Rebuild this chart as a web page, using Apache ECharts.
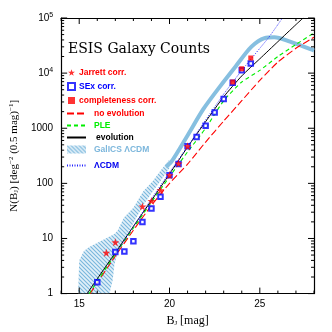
<!DOCTYPE html>
<html><head><meta charset="utf-8">
<script src="https://cdn.jsdelivr.net/npm/echarts@6/dist/echarts.min.js"></script>
<style>html,body{margin:0;padding:0;background:#fff}#c{width:332px;height:332px}</style>
</head><body><div id="c"></div><script>
// ---- data ----
const jarrettMag = [16.5, 17, 18.5, 19, 19.5, 20, 20.5, 21];
const jarrettN   = [5.5, 8.5, 38, 48, 75, 140, 230, 470];
const sexMag = [16, 17, 17.5, 18, 18.5, 19, 19.5, 20, 20.5, 21, 21.5, 22, 22.5, 23, 23.5, 24, 24.5];
const sexN   = [1.6, 5.7, 5.8, 8.9, 20, 35, 57, 140, 225, 470, 690, 1110, 1930, 3400, 6700, 11300, 15000];
const compMag = [23.5, 24, 24.5];
const compN   = [6900, 12000, 18800];
const noEvoMag = [15.6, 17, 18, 19, 20, 21, 22, 23, 24, 25, 26, 27, 28];
const noEvoN   = [1, 4.8, 14.1, 39.8, 100, 224, 562, 1350, 3160, 7410, 15850, 28200, 44700];
const pleMag = [15.55, 17, 18, 19, 20, 21, 22, 23, 24, 25, 26, 27, 28];
const pleN   = [1, 5.2, 15.5, 45.7, 132, 372, 1000, 3160, 6900, 11200, 20000, 33100, 53700];
const evoMag = [15.44, 16, 17, 18, 19, 20, 21, 22, 23, 24, 25, 26, 27, 27.4];
const evoN   = [1, 1.86, 5.5, 16.6, 49, 148, 457, 1320, 3720, 8900, 18200, 37200, 75900, 100000];
const lcdmMag = [17, 18, 19, 20, 21, 22, 23, 24, 25, 25.5, 26, 26.25];
const lcdmN   = [5, 16.6, 52.5, 158, 468, 1410, 4170, 11200, 28200, 44700, 75900, 100000];
const galicsUpperMag = [14.94, 15.0, 15.26, 15.53, 16.2, 16.95, 17.13, 17.48, 18.0, 18.55, 19.08, 19.5, 20.0];
const galicsUpperN   = [1, 4.0, 5.9, 6.9, 9, 12, 14, 24, 36, 72, 110, 170, 270];
const galicsLowerMag = [16.68, 16.86, 16.95, 17.13, 17.5, 18.0, 18.55, 19.0, 19.5, 20.0];
const galicsLowerN   = [1, 1.8, 3.4, 5.5, 9.5, 19, 40, 66, 110, 190];
const galicsLineMag = [19.8, 20.1, 21, 21.88, 22.8, 23.66, 24.54, 25.26, 25.8, 26.67, 27.92, 28];
const galicsLineN   = [200, 245, 740, 2240, 5750, 13200, 30200, 43200, 44700, 37200, 26300, 25700];
const xMajorTicks = [15, 20, 25];
const xMinorTicks = [14, 16, 17, 18, 19, 21, 22, 23, 24, 26, 27, 28];
const yMajorTicks = [1, 10, 100, 1000, 10000, 100000];

const zip = (a, b) => a.map((v, i) => [v, b[i]]);
const yMinorTicks = [];
for (let e = 0; e < 5; e++) for (let k = 2; k <= 9; k++) yMinorTicks.push(k * Math.pow(10, e));

// hatch pattern
const pc = document.createElement('canvas');
pc.width = 4; pc.height = 4;
const g = pc.getContext('2d');
g.fillStyle = '#e2f0f9'; g.fillRect(0, 0, 4, 4);
g.strokeStyle = '#79b6dc'; g.lineWidth = 1.1;
g.beginPath(); g.moveTo(-1, -1); g.lineTo(5, 5); g.moveTo(-1, 3); g.lineTo(1, 5); g.moveTo(3, -1); g.lineTo(5, 1); g.stroke();
const hatch = { image: pc, repeat: 'repeat' };

const XMIN = 14, XMAX = 28, YMIN = 1, YMAX = 100000;
const starPath = 'path://M0,-10L2.35,-3.24L9.51,-3.09L3.8,1.24L5.88,8.09L0,4L-5.88,8.09L-3.8,1.24L-9.51,-3.09L-2.35,-3.24Z';
const legendFont = { fontSize: 8.5, fontWeight: 'bold', fontFamily: 'Liberation Sans' };
const hiddenSymbol = { opacity: 0 };

const chart = echarts.init(document.getElementById('c'));
chart.setOption({
  animation: false,
  backgroundColor: '#fff',
  title: { text: 'ESIS Galaxy Counts', left: 63, top: 37,
    textStyle: { fontFamily: 'DejaVu Serif', fontWeight: 'normal', fontSize: 14, color: '#000' } },
  grid: { left: 51, right: 18, top: 18, bottom: 36 },
  xAxis: [
    { type: 'value', min: XMIN, max: XMAX, splitNumber: 3,
      axisLine: { lineStyle: { color: '#000', width: 1.2 } }, axisTick: { show: false }, splitLine: { show: false },
      axisLabel: { color: '#000', fontSize: 10, fontFamily: 'Liberation Sans', margin: 6,
        formatter: v => (xMajorTicks.indexOf(v) >= 0 ? String(v) : '') },
      name: 'B{s|J} [mag]', nameLocation: 'middle', nameGap: 20,
      nameTextStyle: { fontFamily: 'Liberation Serif', fontSize: 12, color: '#000',
        rich: { s: { fontSize: 7, verticalAlign: 'bottom', padding: [6, 0, 0, 0], fontFamily: 'Liberation Serif' } } } },
    { type: 'value', min: XMIN, max: XMAX, position: 'top',
      axisLine: { lineStyle: { color: '#000', width: 1.2 } }, axisTick: { show: false }, splitLine: { show: false },
      axisLabel: { show: false } }
  ],
  yAxis: [
    { type: 'log', logBase: 10, min: YMIN, max: YMAX,
      axisLine: { lineStyle: { color: '#000', width: 1.2 } }, axisTick: { show: false }, splitLine: { show: false },
      axisLabel: { color: '#000', fontSize: 10, fontFamily: 'Liberation Sans', margin: 8,
        formatter: v => { const e = Math.round(Math.log10(v)); return e <= 3 ? String(Math.round(v)) : '10{sup|' + e + '}'; },
        rich: { sup: { fontSize: 7, verticalAlign: 'top', padding: [0, 0, 6, 0], fontFamily: 'Liberation Sans' } } },
      name: 'N(B{s|J}) [deg{p|−2} (0.5 mag){p|−1}]', nameLocation: 'middle', nameGap: 40, nameRotate: 90,
      nameTextStyle: { fontFamily: 'Liberation Serif', fontSize: 11, color: '#000',
        rich: { s: { fontSize: 7, padding: [5, 0, 0, 0], fontFamily: 'Liberation Serif' },
                p: { fontSize: 7, padding: [0, 0, 5, 0], fontFamily: 'Liberation Serif' } } } },
    { type: 'log', logBase: 10, min: YMIN, max: YMAX, position: 'right',
      axisLine: { lineStyle: { color: '#000', width: 1.2 } }, axisTick: { show: false }, splitLine: { show: false },
      axisLabel: { show: false } }
  ],
  legend: [
    { orient: 'vertical', left: 67, top: 68, padding: 0, itemWidth: 7, itemHeight: 7, itemGap: 5, selectedMode: false,
      textStyle: Object.assign({ padding: [0, 0, 0, -1] }, legendFont),
      data: [
        { name: 'Jarrett corr.', icon: starPath, textStyle: { color: '#ff0000' } },
        { name: 'SEx corr.', icon: 'emptyRect', textStyle: { color: '#0000ff' } },
        { name: 'completeness corr.', icon: 'rect', textStyle: { color: '#ff0000' } }
      ] },
    { orient: 'vertical', left: 66, top: 109, padding: 0, itemWidth: 19, itemHeight: 8, itemGap: 3, selectedMode: false,
      itemStyle: hiddenSymbol,
      textStyle: Object.assign({ padding: [0, 0, 0, 3] }, legendFont),
      data: [
        { name: 'no evolution', textStyle: { color: '#ff0000' } },
        { name: 'PLE', textStyle: { color: '#00ee00' } },
        { name: 'evolution', textStyle: { color: '#000', padding: [0, 0, 0, 5] } }
      ] },
    { orient: 'vertical', left: 66, top: 145, padding: 0, itemWidth: 19, itemHeight: 8, itemGap: 7, selectedMode: false,
      itemStyle: hiddenSymbol,
      textStyle: Object.assign({ padding: [0, 0, 0, 3] }, legendFont),
      data: [
        { name: 'GalICS ΛCDM', icon: 'rect', itemStyle: { color: hatch, opacity: 1 }, textStyle: { color: '#7db7dc' } },
        { name: 'ΛCDM', textStyle: { color: '#0000ee' } }
      ] }
  ],
  series: [
    { name: 'GalICS ΛCDM', type: 'custom', z: 1, silent: true, clip: true,
      itemStyle: { color: hatch },
      data: [[XMIN, YMIN]],
      renderItem: (params, api) => {
        const pts = [];
        galicsUpperMag.forEach((m, i) => pts.push(api.coord([m, galicsUpperN[i]])));
        for (let i = galicsLowerMag.length - 1; i >= 0; i--) pts.push(api.coord([galicsLowerMag[i], galicsLowerN[i]]));
        return { type: 'polygon', shape: { points: pts }, style: { fill: hatch, stroke: null } };
      } },
    { name: 'GalICS line', type: 'line', z: 2, symbol: 'none', smooth: 0.3,
      lineStyle: { color: '#86bfe0', width: 4 }, data: zip(galicsLineMag, galicsLineN) },
    { name: 'no evolution', type: 'line', z: 3, symbol: 'none', color: '#ff0000',
      lineStyle: { color: '#ff0000', width: 1.1, type: [7, 3] }, data: zip(noEvoMag, noEvoN), smooth: 0.2 },
    { name: 'PLE', type: 'line', z: 3, symbol: 'none', color: '#00ee00',
      lineStyle: { color: '#00ee00', width: 1.1, type: [4, 3] }, data: zip(pleMag, pleN), smooth: 0.2 },
    { name: 'evolution', type: 'line', z: 4, symbol: 'none', color: '#000',
      lineStyle: { color: '#000', width: 1 }, data: zip(evoMag, evoN), smooth: 0.2 },
    { name: 'ΛCDM', type: 'line', z: 4, symbol: 'none', color: '#2222ff',
      lineStyle: { color: '#2222ff', width: 1, type: [1, 1.5] }, data: zip(lcdmMag, lcdmN), smooth: 0.2 },
    { name: 'SEx corr.', type: 'scatter', z: 6, symbol: 'emptyRect', symbolSize: 4.5, color: '#0000ff',
      itemStyle: { color: '#0000ff', borderColor: '#0000ff', borderWidth: 1 }, data: zip(sexMag, sexN) },
    { name: 'Jarrett corr.', type: 'scatter', z: 7, symbol: starPath, symbolSize: 8, color: '#ff0000',
      itemStyle: { color: '#ff0000' }, data: zip(jarrettMag, jarrettN) },
    { name: 'completeness corr.', type: 'scatter', z: 7, symbol: 'rect', symbolSize: 5, color: '#ff0000',
      itemStyle: { color: '#ff0000' }, data: zip(compMag, compN) },
    { name: 'xticks', type: 'custom', z: 10, silent: true, clip: false,
      data: xMajorTicks.map(v => [v, 1]).concat(xMinorTicks.map(v => [v, 0])),
      renderItem: (params, api) => {
        const m = api.value(0), len = api.value(1) ? 6 : 3;
        const b = api.coord([m, YMIN]), t = api.coord([m, YMAX]);
        const st = { stroke: '#000', lineWidth: 1 };
        return { type: 'group', children: [
          { type: 'line', shape: { x1: b[0], y1: b[1], x2: b[0], y2: b[1] - len }, style: st },
          { type: 'line', shape: { x1: t[0], y1: t[1], x2: t[0], y2: t[1] + len }, style: st } ] };
      } },
    { name: 'yticks', type: 'custom', z: 10, silent: true, clip: false,
      data: yMajorTicks.map(v => [XMIN, v, 1]).concat(yMinorTicks.map(v => [XMIN, v, 0])),
      encode: { x: 0, y: 1 },
      renderItem: (params, api) => {
        const v = api.value(1), len = api.value(2) ? 6 : 3;
        const l = api.coord([XMIN, v]), r = api.coord([XMAX, v]);
        const st = { stroke: '#000', lineWidth: 1 };
        return { type: 'group', children: [
          { type: 'line', shape: { x1: l[0], y1: l[1], x2: l[0] + len, y2: l[1] }, style: st },
          { type: 'line', shape: { x1: r[0], y1: r[1], x2: r[0] - len, y2: r[1] }, style: st } ] };
      } }
  ]
});
</script></body></html>
